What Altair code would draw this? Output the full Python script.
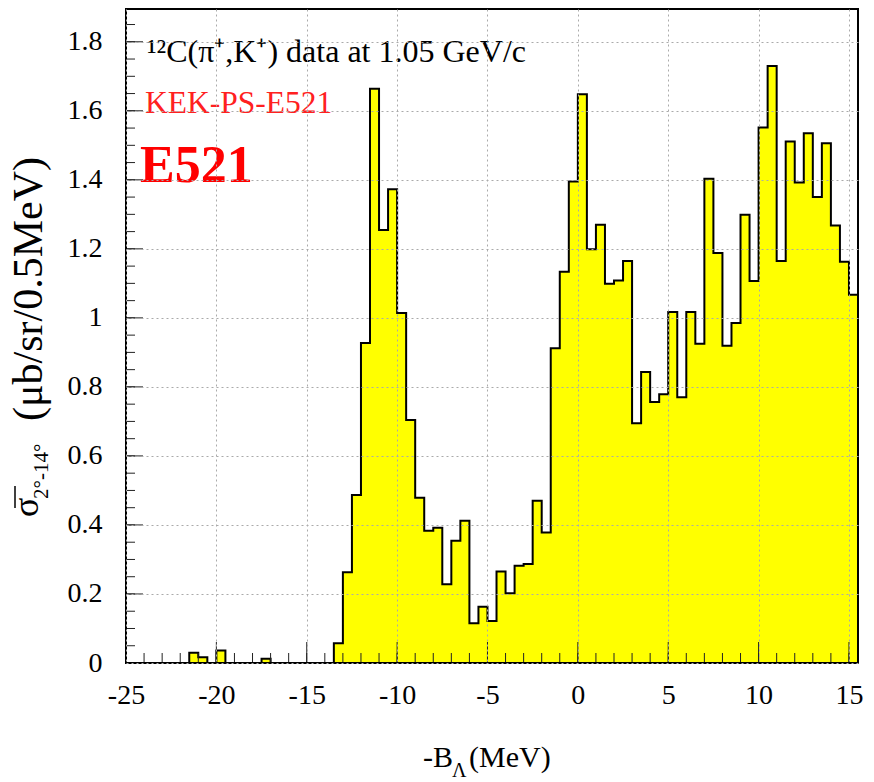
import altair as alt
import pandas as pd

# ---------------- data ----------------
bin_start = -25.0
bin_width = 0.5
counts = [
    0, 0, 0, 0, 0, 0, 0,                      # -25 .. -22
    0.030, 0.017, 0, 0.036, 0, 0, 0, 0,       # -21.5 .. -18
    0.012, 0, 0, 0, 0, 0, 0, 0,               # -17.5 .. -14
    0.057, 0.263, 0.487, 0.927, 1.664, 1.255, 1.373, 1.014,  # -13.5 .. -10
    0.704, 0.479, 0.383, 0.392, 0.228, 0.354, 0.412, 0.115,  # -9.5 .. -6
    0.163, 0.122, 0.265, 0.202, 0.282, 0.287, 0.470, 0.378,  # -5.5 .. -2
    0.912,                                                     # -1.5
    1.134, 1.395, 1.648, 1.199, 1.270, 1.099, 1.108, 1.165,   # -1 .. 2.5
    0.695, 0.843, 0.756, 0.779, 1.017, 0.770, 1.017, 0.925,   # 3 .. 6.5
    1.403, 1.188, 0.919, 0.985, 1.299, 1.107, 1.552, 1.730,   # 7 .. 10.5
    1.165, 1.511, 1.392, 1.535, 1.350, 1.506, 1.268, 1.163,   # 11 .. 14.5
    1.067,                                                     # 15
]
x_domain = [-25, 15.5]
y_domain = [0, 1.895]
x_major = [-25, -20, -15, -10, -5, 0, 5, 10, 15]
x_minor = list(range(-25, 16))
y_major = [0, 0.2, 0.4, 0.6, 0.8, 1.0, 1.2, 1.4, 1.6, 1.8]
y_minor = [round(0.05 * i, 2) for i in range(0, 38)]

title_text = "¹²C(π⁺,K⁺) data at 1.05 GeV/c"
exp_text = "KEK-PS-E521"
big_text = "E521"
ylab_sigma = "σ"
ylab_sub = "2°-14°"
ylab_unit = "(μb/sr/0.5MeV)"
xlab_main = "-B"
xlab_sub = "Λ"
xlab_unit = "(MeV)"

# ---------------- build ----------------
edges = [bin_start + i * bin_width for i in range(len(counts) + 1)]
hist = pd.DataFrame({"x": edges, "y": counts + [counts[-1]]})

W, H = 732, 654
FONT = "Liberation Serif"
xs = alt.Scale(domain=x_domain, nice=False, zero=False)
ys = alt.Scale(domain=y_domain, nice=False, zero=False)

x_axis = alt.Axis(values=x_major, grid=True, gridDash=[2, 3], gridColor="#aaaaaa",
                  gridWidth=1, ticks=False, domain=False, labelFont=FONT,
                  labelFontSize=28, labelColor="black", labelPadding=18,
                  labelExpr="(datum.value < 0 ? '-' : '') + abs(datum.value)",
                  title=None, zindex=1, labelFlush=False, labelOverlap=False)
y_axis = alt.Axis(values=y_major, grid=True, gridDash=[2, 3], gridColor="#aaaaaa",
                  gridWidth=1, ticks=False, domain=False, labelFont=FONT,
                  labelFontSize=28, labelColor="black", labelPadding=24,
                  format="~g", title=None, zindex=1, labelFlush=False,
                  labelOverlap=False)

area = alt.Chart(hist).mark_area(interpolate="step-after", color="#ffff00").encode(
    x=alt.X("x:Q", scale=xs, axis=x_axis),
    y=alt.Y("y:Q", scale=ys, axis=y_axis),
)
outline = alt.Chart(hist).mark_line(interpolate="step-after", color="black",
                                    strokeWidth=2).encode(
    x=alt.X("x:Q"),
    y=alt.Y("y:Q"),
)

def xticks(vals, length):
    return alt.Chart(pd.DataFrame({"x": vals})).mark_rule(color="#222222", strokeWidth=1).encode(
        x=alt.X("x:Q"),
        y=alt.value(H), y2=alt.value(H - length))

def yticks(vals, length):
    return alt.Chart(pd.DataFrame({"y": vals})).mark_rule(color="#222222", strokeWidth=1).encode(
        y=alt.Y("y:Q"),
        x=alt.value(0), x2=alt.value(length))

def label(text, x, y, size, color="black", weight="normal", angle=0):
    return alt.Chart(pd.DataFrame({"t": [text]})).mark_text(
        font=FONT, fontSize=size, color=color, fontWeight=weight, angle=angle,
        align="left", baseline="alphabetic").encode(
        text="t:N", x=alt.value(x), y=alt.value(y))

frame = alt.Chart(pd.DataFrame({"a": [0]})).mark_rect(
    fill=None, stroke="black", strokeWidth=2).encode(
    x=alt.value(0), x2=alt.value(W), y=alt.value(0), y2=alt.value(H))

sigma_bar = alt.Chart(pd.DataFrame({"a": [0]})).mark_rule(
    color="black", strokeWidth=1.5).encode(
    x=alt.value(-111), y=alt.value(477), y2=alt.value(499))

chart = alt.layer(
    area, outline,
    xticks(x_minor, 10), xticks(x_major, 21),
    yticks(y_minor, 9), yticks(y_major, 17),
    frame,
    label(title_text, 21, 53, 32),
    label(exp_text, 19, 104, 31.5, color="#ff2020"),
    label(big_text, 14, 173, 52, color="#ff0000", weight="bold"),
    label(ylab_sigma, -88, 508, 36, angle=270),
    sigma_bar,
    label(ylab_sub, -78, 490, 21, angle=270),
    label(ylab_unit, -84, 412, 42, angle=270),
    label(xlab_main, 297, 758, 30),
    label(xlab_sub, 326, 768, 20),
    label(xlab_unit, 343, 758, 30),
).properties(
    width=W, height=H,
    autosize=alt.AutoSizeParams(type="none"),
    padding={"left": 126, "top": 9, "right": 16, "bottom": 119},
).configure_view(stroke=None).configure(font=FONT).configure_axis(
    labelFont=FONT, labelFontSize=28, labelColor="black")

chart.save("out.html", embed_options={"renderer": "svg", "actions": False})
